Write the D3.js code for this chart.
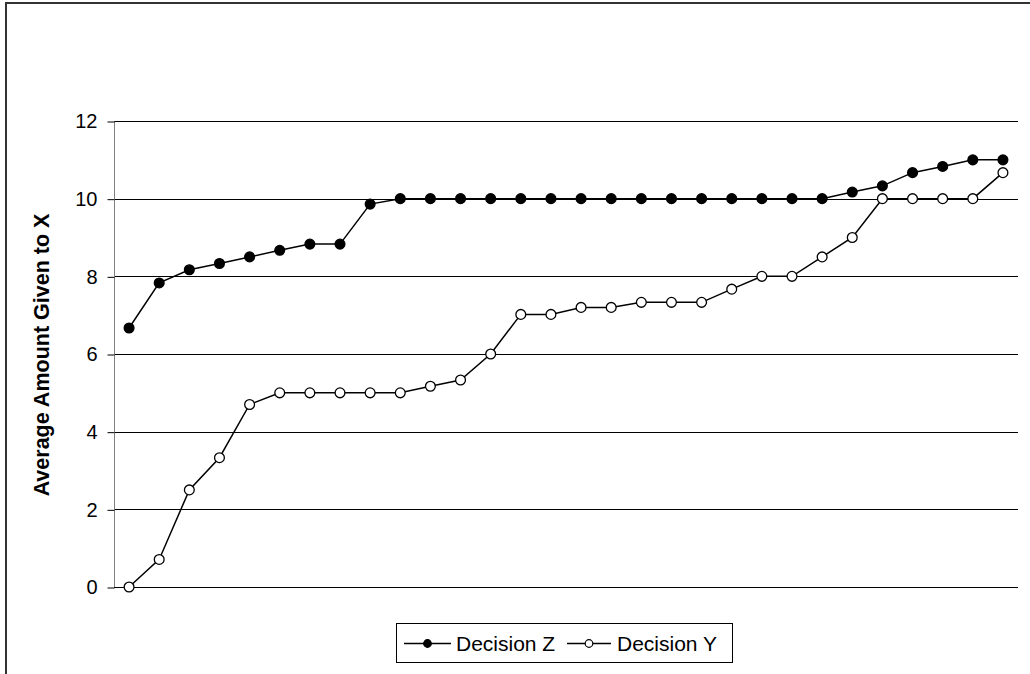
<!DOCTYPE html>
<html>
<head>
<meta charset="utf-8">
<script src="https://cdn.jsdelivr.net/npm/d3@7"></script>
<style>
  html, body { margin: 0; padding: 0; background: #fff; }
  svg { display: block; font-family: "Liberation Sans", Arial, sans-serif; }
</style>
</head>
<body>
<svg id="chart" width="1030" height="674"></svg>
<script>
// ---- data ----
const categories = d3.range(1, 31);
const decisionZ = [6.67, 7.83, 8.17, 8.33, 8.5, 8.67, 8.83, 8.83, 9.86, 10,
                   10, 10, 10, 10, 10, 10, 10, 10, 10, 10,
                   10, 10, 10, 10, 10.17, 10.33, 10.67, 10.83, 11, 11];
const decisionY = [0, 0.71, 2.5, 3.33, 4.7, 5, 5, 5, 5, 5,
                   5.17, 5.33, 6, 7.02, 7.02, 7.2, 7.2, 7.33, 7.33, 7.33,
                   7.67, 8, 8, 8.5, 9, 10, 10, 10, 10, 10.67];
const yTicks = [0, 2, 4, 6, 8, 10, 12];
const seriesNames = ["Decision Z", "Decision Y"];
const yTitle = "Average Amount Given to X";

// ---- layout ----
const FONT = "'Liberation Sans', Arial, sans-serif";
const svg = d3.select("#chart");
const pLeft = 114, pRight = 1018, pTop = 121, pBottom = 587;

const x = d3.scaleBand().domain(categories).range([pLeft, pRight]);
const y = d3.scaleLinear().domain([0, 12]).range([pBottom, pTop]);

// outer chart border (left and top edges visible)
svg.append("path")
  .attr("d", `M6,674 V3 H1030`)
  .attr("fill", "none").attr("stroke", "#333").attr("stroke-width", 2);

// gridlines
svg.append("g").selectAll("line").data(yTicks.filter(d => d > 0)).join("line")
  .attr("x1", pLeft).attr("x2", pRight)
  .attr("y1", d => Math.round(y(d)) + 0.5).attr("y2", d => Math.round(y(d)) + 0.5)
  .attr("stroke", "#000").attr("stroke-width", 1);

// y axis
const yAxis = d3.axisLeft(y).tickValues(yTicks).tickSize(7).tickPadding(10)
  .tickFormat(d3.format("d"));
const ga = svg.append("g").attr("transform", `translate(${pLeft + 0.5},0.5)`).call(yAxis);
ga.attr("font-family", FONT);
ga.select(".domain").attr("stroke", "#808080").attr("d", `M0,${Math.round(y(12))} V${Math.round(y(0))}`);
ga.selectAll(".tick line").attr("stroke", "#000");
ga.selectAll(".tick text").attr("font-size", 20).attr("fill", "#000").attr("font-family", FONT);
// baseline at 0
svg.append("line").attr("x1", pLeft).attr("x2", pRight)
  .attr("y1", Math.round(y(0)) + 0.5).attr("y2", Math.round(y(0)) + 0.5)
  .attr("stroke", "#000");

// y title
svg.append("text")
  .attr("transform", `translate(49,${(pTop + pBottom) / 2 + 1}) rotate(-90)`)
  .attr("text-anchor", "middle").attr("font-family", FONT)
  .attr("font-size", 21.5).attr("font-weight", "bold").attr("fill", "#000")
  .text(yTitle);

const cx = (d, i) => x(categories[i]) + x.bandwidth() / 2;
const line = d3.line().x(cx).y(d => y(d));

const series = [
  { name: seriesNames[0], values: decisionZ, fill: "#000" },
  { name: seriesNames[1], values: decisionY, fill: "#fff" }
];

series.forEach(s => {
  svg.append("path").datum(s.values).attr("d", line)
    .attr("fill", "none").attr("stroke", "#000").attr("stroke-width", 1.5);
  svg.append("g").selectAll("circle").data(s.values).join("circle")
    .attr("cx", cx).attr("cy", d => y(d)).attr("r", 4.9)
    .attr("fill", s.fill).attr("stroke", "#000").attr("stroke-width", 1.3);
});

// legend
const lg = svg.append("g");
lg.append("rect").attr("x", 396.5).attr("y", 623.5).attr("width", 336).attr("height", 39)
  .attr("fill", "#fff").attr("stroke", "#000").attr("stroke-width", 1);
const legendItems = [
  { name: seriesNames[0], fill: "#000", x0: 404, x1: 451, tx: 456 },
  { name: seriesNames[1], fill: "#fff", x0: 567, x1: 611, tx: 617 }
];
legendItems.forEach(it => {
  lg.append("line").attr("x1", it.x0).attr("x2", it.x1)
    .attr("y1", 643.5).attr("y2", 643.5).attr("stroke", "#000").attr("stroke-width", 1.5);
  lg.append("circle").attr("cx", (it.x0 + it.x1) / 2).attr("cy", 643.5).attr("r", 3.8)
    .attr("fill", it.fill).attr("stroke", "#000").attr("stroke-width", 1.2);
  lg.append("text").attr("x", it.tx).attr("y", 651).attr("font-family", FONT)
    .attr("font-size", 21).attr("fill", "#000").text(it.name);
});
</script>
</body>
</html>
